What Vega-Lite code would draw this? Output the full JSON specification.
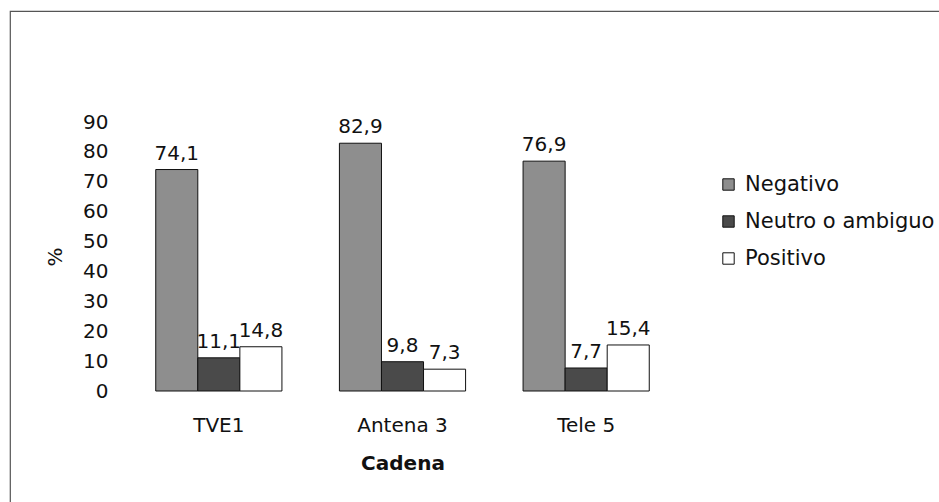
{
  "$schema": "https://vega.github.io/schema/vega-lite/v6.json",
  "width": 940,
  "height": 500,
  "autosize": "none",
  "padding": {"left": 10, "top": 11, "right": 0, "bottom": 0},
  "background": "white",
  "config": {
    "locale": {"number": {"decimal": ",", "thousands": ".", "grouping": [3], "currency": ["", " €"]}},
    "view": {"stroke": "#555555", "strokeWidth": 1.2},
    "font": "DejaVu Sans"
  },
  "data": {
    "values": [
      {"Cadena": "TVE1", "Valoracion": "Negativo", "Pct": 74.1},
      {"Cadena": "TVE1", "Valoracion": "Neutro o ambiguo", "Pct": 11.1},
      {"Cadena": "TVE1", "Valoracion": "Positivo", "Pct": 14.8},
      {"Cadena": "Antena 3", "Valoracion": "Negativo", "Pct": 82.9},
      {"Cadena": "Antena 3", "Valoracion": "Neutro o ambiguo", "Pct": 9.8},
      {"Cadena": "Antena 3", "Valoracion": "Positivo", "Pct": 7.3},
      {"Cadena": "Tele 5", "Valoracion": "Negativo", "Pct": 76.9},
      {"Cadena": "Tele 5", "Valoracion": "Neutro o ambiguo", "Pct": 7.7},
      {"Cadena": "Tele 5", "Valoracion": "Positivo", "Pct": 15.4}
    ]
  },
  "encoding": {
    "x": {
      "field": "Cadena",
      "type": "nominal",
      "sort": ["TVE1", "Antena 3", "Tele 5"],
      "scale": {"range": [117, 668], "paddingInner": 0.313, "paddingOuter": 0.1565},
      "axis": {
        "title": "Cadena",
        "orient": "bottom",
        "labelAngle": 0,
        "offset": -120,
        "domain": false,
        "ticks": false,
        "grid": false,
        "labelPadding": 24,
        "labelFontSize": 20,
        "labelColor": "#111111",
        "titleFontSize": 20,
        "titleFontWeight": "bold",
        "titlePadding": 18,
        "titleColor": "#111111"
      }
    },
    "xOffset": {
      "field": "Valoracion",
      "type": "nominal",
      "sort": ["Negativo", "Neutro o ambiguo", "Positivo"],
      "scale": {"paddingInner": 0, "paddingOuter": 0}
    },
    "y": {
      "field": "Pct",
      "type": "quantitative",
      "scale": {"domain": [0, 90], "range": [380, 111], "nice": false},
      "axis": {
        "title": "%",
        "values": [0, 10, 20, 30, 40, 50, 60, 70, 80, 90],
        "format": "d",
        "domain": false,
        "ticks": false,
        "grid": false,
        "offset": -98,
        "labelPadding": 0,
        "labelFontSize": 20,
        "labelColor": "#111111",
        "titleFontSize": 20,
        "titleFontWeight": "normal",
        "titleColor": "#111111",
        "titlePadding": 17
      }
    }
  },
  "layer": [
    {
      "mark": {"type": "bar", "stroke": "#111111", "strokeWidth": 1},
      "encoding": {
        "fill": {
          "field": "Valoracion",
          "type": "nominal",
          "scale": {"domain": ["Negativo", "Neutro o ambiguo", "Positivo"], "range": ["#8e8e8e", "#4a4a4a", "#ffffff"]},
          "legend": {
            "title": null,
            "orient": "none",
            "legendX": 708,
            "legendY": 163,
            "symbolType": "square",
            "symbolSize": 130,
            "symbolStrokeColor": "#111111",
            "symbolStrokeWidth": 1,
            "symbolOpacity": 1,
            "labelFontSize": 21,
            "labelLimit": 0,
            "labelColor": "#111111",
            "rowPadding": 15,
            "labelOffset": 6,
            "padding": 0
          }
        }
      }
    },
    {
      "mark": {"type": "text", "dy": -16, "fontSize": 20, "color": "#111111", "align": "center"},
      "encoding": {
        "text": {"field": "Pct", "type": "quantitative", "format": ".1f"}
      }
    }
  ]
}
